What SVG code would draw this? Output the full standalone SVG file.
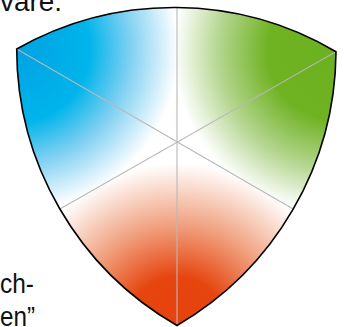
<svg xmlns="http://www.w3.org/2000/svg" width="346" height="327" viewBox="0 0 346 327">
  <defs>
    <style>
      .txt { font-family: "Liberation Sans", Arial, sans-serif; font-size: 28px; fill: #111; }
      .axis { stroke: #b8b8b8; stroke-width: 1.1; fill: none; }
      .outline { fill: none; stroke: #000; stroke-width: 1.6; stroke-linejoin: miter; }
    </style>
    <clipPath id="shape">
      <path d="M16.7 49 A319 319 0 0 1 336 51.7 A319 319 0 0 1 177 325.5 A319 319 0 0 1 16.7 49 Z"/>
    </clipPath>
    <radialGradient id="gBlue" gradientUnits="userSpaceOnUse" cx="16.7" cy="49" r="162">
      <stop offset="0" stop-color="#00A2E2"/>
      <stop offset="0.45" stop-color="#00B4EB"/>
      <stop offset="0.7" stop-color="#7FD0F2"/>
      <stop offset="1" stop-color="#FFFFFF"/>
    </radialGradient>
    <radialGradient id="gGreen" gradientUnits="userSpaceOnUse" cx="336" cy="51.7" r="162">
      <stop offset="0" stop-color="#6BB11F"/>
      <stop offset="0.42" stop-color="#6FB222"/>
      <stop offset="0.72" stop-color="#B3D58E"/>
      <stop offset="1" stop-color="#FFFFFF"/>
    </radialGradient>
    <radialGradient id="gRed" gradientUnits="userSpaceOnUse" cx="177" cy="325.5" r="162">
      <stop offset="0" stop-color="#E6420D"/>
      <stop offset="0.3" stop-color="#E6450F"/>
      <stop offset="0.62" stop-color="#F0A07E"/>
      <stop offset="1" stop-color="#FFFFFF"/>
    </radialGradient>
  </defs>
  <rect width="346" height="327" fill="#fff"/>
  <g id="text">
    <text class="txt" x="0" y="11" textLength="62" lengthAdjust="spacingAndGlyphs">vare.</text>
    <text class="txt" x="0" y="293" textLength="34" lengthAdjust="spacingAndGlyphs">ch-</text>
    <text class="txt" x="0" y="326" textLength="35" lengthAdjust="spacingAndGlyphs">en”</text>
  </g>
  <g id="sectors" clip-path="url(#shape)">
    <g id="blue"><path d="M177 142 L177 -20 L-100 -20 L-83 291 Z" fill="url(#gBlue)"/></g>
    <g id="green"><path d="M177 142 L177 -20 L446 -20 L437 291 Z" fill="url(#gGreen)"/></g>
    <g id="red"><path d="M177 142 L-83 291 L-83 400 L437 400 L437 291 Z" fill="url(#gRed)"/></g>
  </g>
  <g id="connectors" clip-path="url(#shape)">
    <line class="axis" x1="16.7" y1="49" x2="294" y2="209.5"/>
    <line class="axis" x1="336" y1="51.7" x2="59" y2="209.5"/>
    <line class="axis" x1="177" y1="6" x2="177" y2="325.5"/>
  </g>
  <g id="border">
    <path class="outline" d="M16.7 49 A319 319 0 0 1 336 51.7 A319 319 0 0 1 177 325.5 A319 319 0 0 1 16.7 49 Z"/>
  </g>
</svg>
